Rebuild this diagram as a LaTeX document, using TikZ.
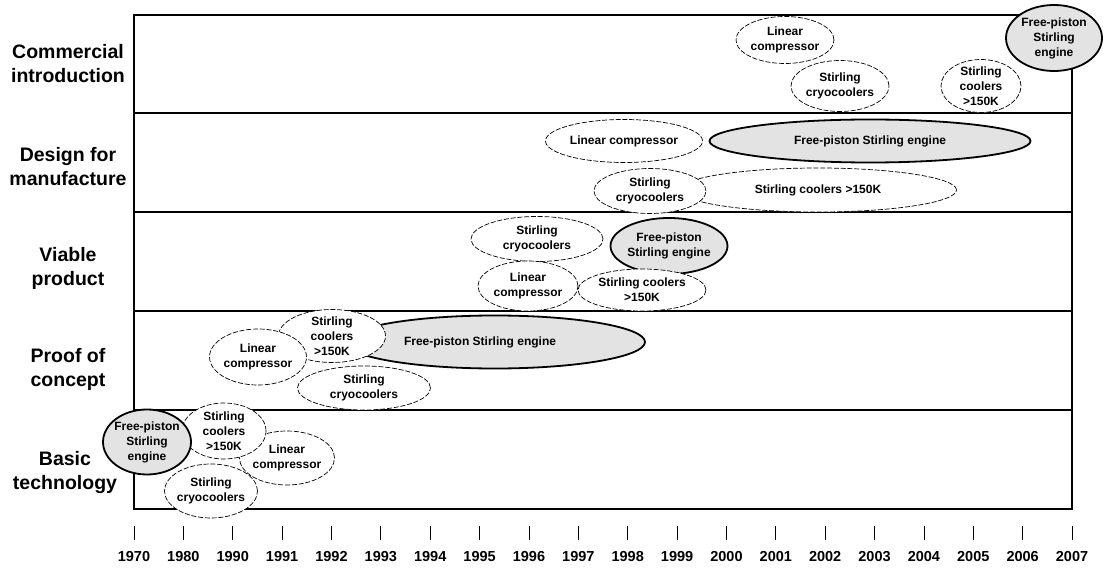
\documentclass[tikz,border=0pt]{standalone}
\usepackage{fontspec}
\setmainfont{Liberation Sans}
\usetikzlibrary{shapes.geometric}
\begin{document}
\begin{tikzpicture}[x=1pt,y=-1pt,
  lane/.style={line width=1.7pt},
  tickline/.style={line width=0.8pt},
  rowlabel/.style={font=\fontsize{19.5}{24}\selectfont\bfseries, align=center},
  yearlabel/.style={font=\fontsize{14.5}{16}\selectfont\bfseries},
  ell/.style={ellipse, inner sep=-40pt, align=center, font=\fontsize{12}{15}\selectfont\bfseries},
  dbl/.style={ell, draw, dash pattern=on 5pt off 1.8pt, line width=0.7pt, fill=white},
  fps/.style={ell, draw, line width=1.8pt, fill=gray!22}
]
\useasboundingbox (0,0) rectangle (1103,569);
% frame
\coordinate (tl) at (134,15);
\coordinate (br) at (1072,509);
\draw[lane] (tl) rectangle (br);
\foreach \yy [count=\i] in {113,212,311,410} {
  \coordinate (sl\i) at (134,\yy);
  \coordinate (sr\i) at (1072,\yy);
  \draw[lane] (sl\i) -- (sr\i);
}
% row labels
\node[rowlabel] (r1) at (68,64) {Commercial\\introduction};
\node[rowlabel] (r2) at (68,167) {Design for\\manufacture};
\node[rowlabel] (r3) at (68,268) {Viable\\product};
\node[rowlabel] (r4) at (68,369) {Proof of\\concept};
\node[rowlabel] (r5) at (65,472) {Basic\\technology};
% years
\foreach \yr [count=\i from 0] in {1970,1980,1990,1991,1992,1993,1994,1995,1996,1997,1998,1999,2000,2001,2002,2003,2004,2005,2006,2007} {
  \coordinate (ta\i) at ({134+\i*49.37},526);
  \coordinate (tb\i) at ({134+\i*49.37},540);
  \draw[tickline] (ta\i) -- (tb\i);
  \node[yearlabel] (y\i) at ({134+\i*49.37},557) {\yr};
}
% Commercial introduction
\node[dbl, minimum width=98pt, minimum height=47pt] (c1) at (785,40) {Linear\\compressor};
\node[dbl, minimum width=98pt, minimum height=51pt] (c2) at (840,86) {Stirling\\cryocoolers};
\node[dbl, minimum width=80pt, minimum height=53pt] (c3) at (981,86) {Stirling\\coolers\\>150K};
\node[fps, minimum width=96pt, minimum height=66pt] (c4) at (1054,38) {Free-piston\\Stirling\\engine};
% Design for manufacture
\node[dbl, minimum width=157pt, minimum height=43pt] (d1) at (624,141) {Linear compressor};
\node[fps, minimum width=321pt, minimum height=43pt] (d2) at (870,141) {Free-piston Stirling engine};
\node[dbl, minimum width=277pt, minimum height=44pt] (d3) at (818,190) {Stirling coolers >150K};
\node[dbl, minimum width=112pt, minimum height=45pt] (d4) at (650,191) {Stirling\\cryocoolers};
% Viable product
\node[dbl, minimum width=132pt, minimum height=45pt] (v1) at (537,239) {Stirling\\cryocoolers};
\node[fps, minimum width=117pt, minimum height=56pt] (v2) at (669,246) {Free-piston\\Stirling engine};
\node[dbl, minimum width=100pt, minimum height=50pt] (v3) at (528,286) {Linear\\compressor};
\node[dbl, minimum width=128pt, minimum height=42pt] (v4) at (642,290) {Stirling coolers\\>150K};
% Proof of concept
\node[fps, minimum width=300pt, minimum height=53pt,
      label={[font=\fontsize{12}{15}\selectfont\bfseries, xshift=-15pt]center:Free-piston Stirling engine}] (p1) at (495,342) {};
\node[dbl, minimum width=107pt, minimum height=53pt] (p2) at (332,336) {Stirling\\coolers\\>150K};
\node[dbl, minimum width=97pt, minimum height=56pt] (p3) at (258,357) {Linear\\compressor};
\node[dbl, minimum width=133pt, minimum height=44pt] (p4) at (364,388) {Stirling\\cryocoolers};
% Basic technology
\node[dbl, minimum width=95pt, minimum height=54pt] (b3) at (287,458) {Linear\\compressor};
\node[dbl, minimum width=84pt, minimum height=56pt] (b2) at (224,431) {Stirling\\coolers\\>150K};
\node[fps, minimum width=88pt, minimum height=65pt] (b1) at (147,442) {Free-piston\\Stirling\\engine};
\node[dbl, minimum width=93pt, minimum height=54pt] (b4) at (211,491) {Stirling\\cryocoolers};
\end{tikzpicture}
\end{document}
